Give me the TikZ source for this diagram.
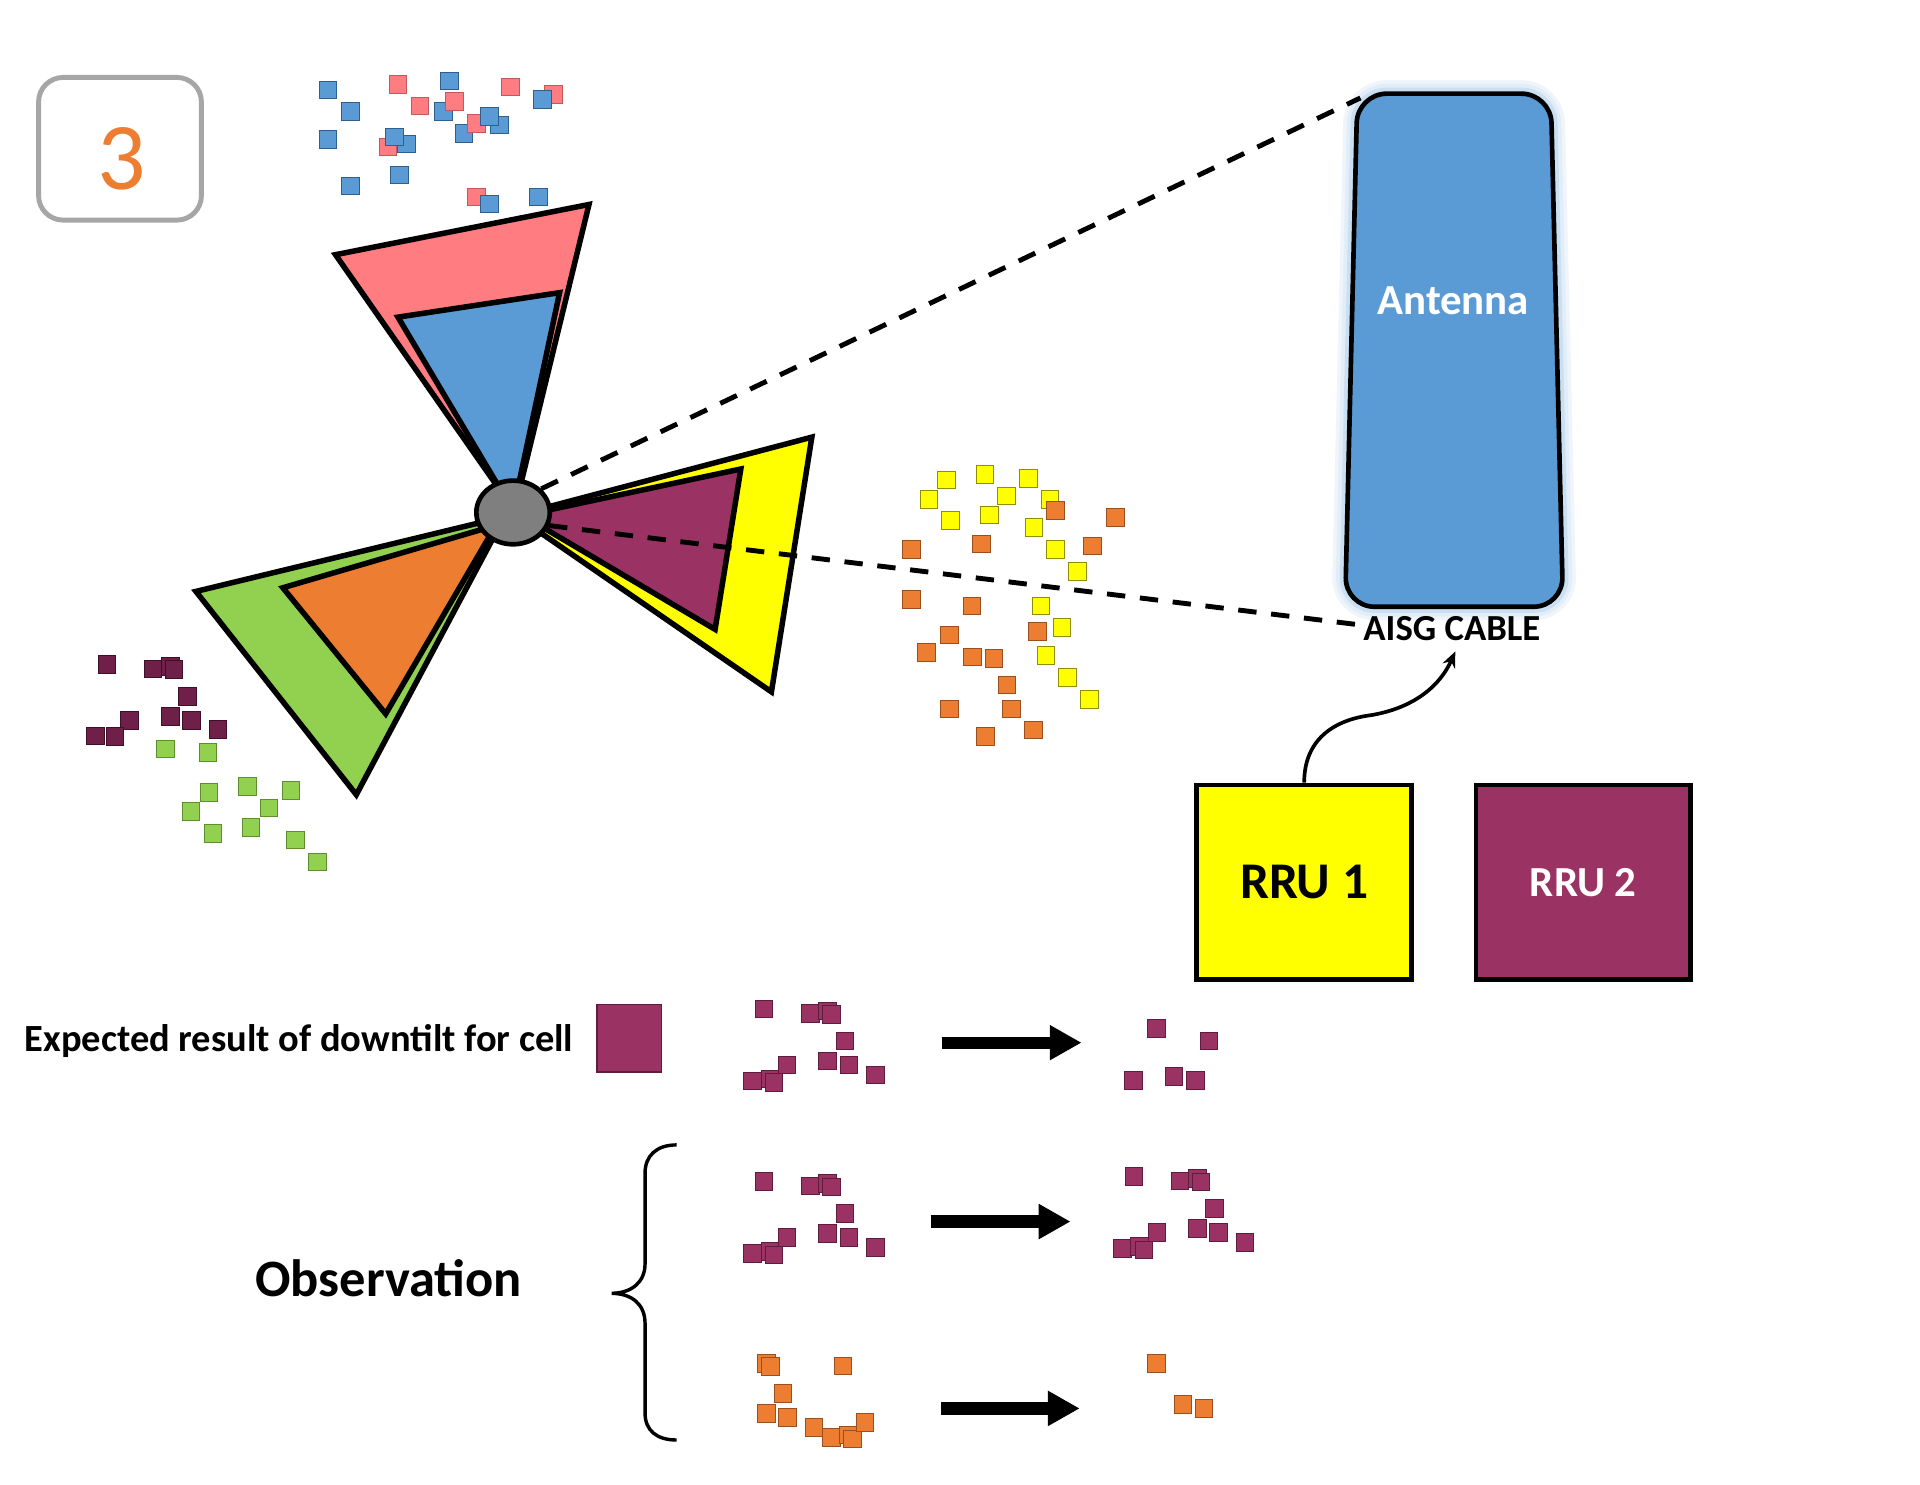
\documentclass[tikz,border=0pt]{standalone}
\usepackage{fontspec}
\setmainfont{Carlito}
\usetikzlibrary{arrows.meta,shapes.geometric}
\definecolor{cpink}{HTML}{FF7C80}
\definecolor{cpinkD}{HTML}{C0585C}
\definecolor{cblue}{HTML}{5B9BD5}
\definecolor{cblueD}{HTML}{2E5F8E}
\definecolor{cgreen}{HTML}{92D050}
\definecolor{cgreenD}{HTML}{5E8F2E}
\definecolor{corange}{HTML}{ED7D31}
\definecolor{corangeD}{HTML}{9C4F1E}
\definecolor{cyellow}{HTML}{FFFF00}
\definecolor{cyellowD}{HTML}{8E8E00}
\definecolor{cpurple}{HTML}{9B3264}
\definecolor{cpurpleD}{HTML}{5E1D3C}
\definecolor{cdark}{HTML}{6E2049}
\definecolor{cdarkD}{HTML}{3E1028}
\definecolor{cgray}{HTML}{7F7F7F}
\definecolor{cbadge}{HTML}{A6A6A6}
\newcommand{\drawsqs}[2]{\foreach \a/\b in {#2}{\draw[#1] (\a-7.2,\b-7.2) rectangle (\a+7.2,\b+7.2);}}
\newcommand{\purpcluster}{\drawsqs{sqpurple}{624/824, 661.7/827.5, 675.7/825.6, 678.8/828.3, 690/850, 642.8/869.7, 675.7/866.4, 693.2/869.7, 714.8/877.9, 614.7/882.8, 628.8/881.1, 632.2/883.9}}
\begin{document}
\begin{tikzpicture}[x=1pt,y=-1pt,
  sector/.style={draw=black,line width=4.5pt,line join=miter},
  dashline/.style={line width=4pt,dash pattern=on 15pt off 12pt},
  bigarrow/.style={-{Triangle[length=26pt,width=27pt]},line width=10pt},
  cable/.style={line width=3pt,-{Stealth[length=13pt,width=11pt]}},
  rru/.style={draw=black,line width=3.8pt,minimum width=175.5pt,minimum height=159pt,inner sep=0pt},
  txt/.style={inner sep=0pt},
  sqblue/.style={fill=cblue,draw=cblueD,line width=0.8pt},
  sqpink/.style={fill=cpink,draw=cpinkD,line width=0.8pt},
  sqgreen/.style={fill=cgreen,draw=cgreenD,line width=0.8pt},
  sqorange/.style={fill=corange,draw=corangeD,line width=0.8pt},
  sqyellow/.style={fill=cyellow,draw=cyellowD,line width=0.8pt},
  sqpurple/.style={fill=cpurple,draw=cpurpleD,line width=0.8pt},
  sqdark/.style={fill=cdark,draw=cdarkD,line width=0.8pt}]
\useasboundingbox[fill=white] (0,0) rectangle (1568,1212);

% badge
\node[draw=cbadge,line width=4pt,rounded corners=20pt,minimum width=133pt,minimum height=116.5pt,inner sep=0pt] (badge) at (98,121.5) {};
\node[txt,anchor=base,text=corange,font=\fontsize{78}{80}\selectfont] (num) at (99.4,154.6) {3};

% top cluster squares
\drawsqs{sqpink}{452/77}
\drawsqs{sqblue}{443/81, 268/73.5, 367/66, 286/91, 362/91, 268/114, 286/152, 326/143, 408/102, 379/109}
\drawsqs{sqpink}{325/69, 417/71, 343/86.5, 371/83, 389/101, 317/120, 389/161}
\drawsqs{sqblue}{400/95, 332/117.6, 322/112, 400/166.6, 440/161}

% left clusters
\drawsqs{sqdark}{87.5/542.5, 125/546.3, 139/544.4, 142/547, 153/568.9, 106/588.5, 139/585.3, 156.6/588.5, 178/596, 78/601, 94/601.6}
\drawsqs{sqgreen}{135/611.6, 170/614.4, 170.6/647.3, 202/642.4, 237.6/645.7, 219.6/660, 156/662.8, 205/675.9, 174/680.5, 241.5/686, 259.4/704}

% right clusters
\drawsqs{sqyellow}{773/392, 804.4/387.4, 839.8/390.6, 758.6/407.8, 822/405, 857.5/407.8, 776.3/425.2, 808/420.6, 844.4/431, 862/448.6, 879.8/466.9, 850/494.9, 867.3/512.6, 854.2/535.4, 871.9/553.1, 889.6/571.1}
\drawsqs{sqorange}{861.8/417, 911/422.5, 744.5/448.6, 801.4/444.3, 892.3/445.9, 744.5/489.4, 793.8/494.9, 775.3/518.6, 847.4/515.8, 756.7/532.7, 794.3/536.5, 811.7/537.6, 822.3/559.4, 775.3/579, 825.9/579, 843.8/596.1, 804.7/601.6}

% sectors
\draw[sector,fill=cgreen] (412,422) -- (160,483) -- (291,649) -- cycle;
\draw[sector,fill=corange] (405,429) -- (231,480) -- (315,583) -- cycle;
\draw[sector,fill=cyellow] (421,421) -- (663,357) -- (630,565) -- cycle;
\draw[sector,fill=cpurple] (427,421) -- (605,383) -- (584,514) -- cycle;
\draw[sector,fill=cpink] (420,417) -- (274,208) -- (481,167) -- cycle;
\draw[sector,fill=cblue] (419,417) -- (325,259) -- (457,239) -- cycle;

% antenna glow
\foreach \w/\c in {22/10, 16/18, 10/32}{
  \draw[line width=\w pt,draw=cblue!\c,rounded corners=24pt] (1187.5,76.5) -- (1266.5,76.5) -- (1276.5,495.5) -- (1098.5,495.5) -- (1108.5,76.5) -- cycle;}

% hub
\node[ellipse,draw=black,line width=3.8pt,fill=cgray,minimum width=60pt,minimum height=52pt,inner sep=0pt] (hub) at (419,418.5) {};

% dashed links
\coordinate (antTL) at (1111,80);
\coordinate (dashend) at (1108,510);
\draw[dashline] (hub.40) -- (antTL);
\draw[dashline] (hub.-20) -- (dashend);

% antenna
\draw[fill=cblue,draw=black,line width=3.8pt,rounded corners=24pt] (1187.5,76.5) -- (1266.5,76.5) -- (1276.5,495.5) -- (1098.5,495.5) -- (1108.5,76.5) -- cycle;
\node[txt,anchor=base,text=white,font=\fontsize{35}{40}\selectfont\bfseries] (antlabel) at (1186.8,256.8) {Antenna};
\node[txt,anchor=base,font=\fontsize{30}{36}\selectfont\bfseries] (aisg) at (1185.7,522.7) {AISG CABLE};

% RRUs
\node[rru,fill=cyellow,font=\fontsize{42}{48}\selectfont\bfseries] (rru1) at (1065.1,720.5) {RRU 1};
\node[rru,fill=cpurple,text=white,font=\fontsize{35}{40}\selectfont\bfseries] (rru2) at (1293,720.5) {RRU 2};
\coordinate (aisgtip) at (1188.5,532);
\draw[cable] (rru1.north) .. controls (1065,605) and (1088,588) .. (1120,584) .. controls (1155,578) and (1176,560) .. (aisgtip);

% legend row
\node[txt,anchor=base west,font=\fontsize{31.4}{38}\selectfont\bfseries] (expected) at (20,858.9) {Expected result of downtilt for cell};
\node[draw=cpurpleD,fill=cpurple,line width=1pt,minimum width=53pt,minimum height=55pt,inner sep=0pt] (legend) at (514,848) {};

% clusters and arrows
\purpcluster
\begin{scope}[shift={(0,141)}]\purpcluster\end{scope}
\begin{scope}[shift={(302,137)}]\purpcluster\end{scope}
\drawsqs{sqpurple}{944.6/839.8, 987.4/850, 925.5/882.5, 958.7/879.2, 976.1/882.5}
\drawsqs{sqorange}{625.8/1113.4, 629.2/1116.1, 688.3/1115.6, 639.5/1137.9, 625.8/1154.3, 643/1157.5, 664.6/1165.7, 679/1174.1, 692.8/1172, 696.2/1175.2, 706.5/1161.6}
\drawsqs{sqorange}{944.7/1113.4, 966/1146.9, 983.2/1150.2}

\coordinate (r1s) at (769,851.5);  \coordinate (r1e) at (883.3,851.5);
\coordinate (r2s) at (760,997.6);  \coordinate (r2e) at (874.3,997.6);
\coordinate (r3s) at (768.4,1150.2); \coordinate (r3e) at (881.8,1150.2);
\draw[bigarrow] (r1s) -- (r1e);
\draw[bigarrow] (r2s) -- (r2e);
\draw[bigarrow] (r3s) -- (r3e);

% observation brace
\node[txt,anchor=base west,font=\fontsize{42.9}{50}\selectfont\bfseries] (obs) at (208.3,1058.9) {Observation};
\draw[line width=2.8pt] (552.6,935) .. controls (536,935) and (526.8,944) .. (526.8,958) -- (526.8,1032) .. controls (526.8,1047) and (516,1056) .. (499.5,1056.2) .. controls (516,1056.4) and (526.8,1065) .. (526.8,1081) -- (526.8,1154) .. controls (526.8,1168) and (536,1176) .. (552.6,1176);
\end{tikzpicture}
\end{document}
